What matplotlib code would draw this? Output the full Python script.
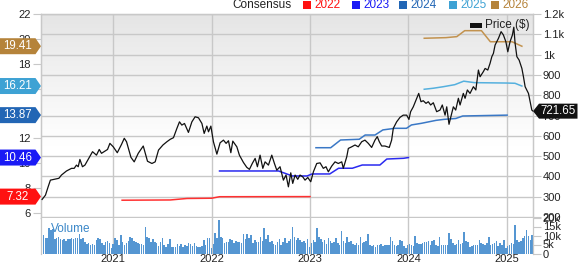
import numpy as np
import pandas as pd
import matplotlib
matplotlib.use("Agg")
import matplotlib.pyplot as plt
import matplotlib.dates as mdates
from matplotlib.patches import Polygon, Rectangle
from matplotlib.transforms import IdentityTransform
from matplotlib.ticker import FixedLocator, FuncFormatter

plt.rcParams['font.family'] = ['Liberation Sans', 'DejaVu Sans']

# ---------------- data ----------------
price_t = [2020.279, 2020.313, 2020.340, 2020.363, 2020.408, 2020.449, 2020.475, 2020.526, 2020.577, 2020.604,
           2020.627, 2020.645, 2020.662, 2020.688, 2020.713, 2020.746, 2020.790, 2020.830, 2020.858, 2020.881,
           2020.916, 2020.942, 2020.966,
           2021.000, 2021.041, 2021.084, 2021.112, 2021.135, 2021.180, 2021.213, 2021.254, 2021.305, 2021.348,
           2021.393, 2021.426, 2021.460, 2021.505, 2021.545, 2021.579, 2021.612, 2021.647, 2021.673, 2021.697,
           2021.724, 2021.764, 2021.799, 2021.832, 2021.866, 2021.901, 2021.924, 2021.951, 2021.968, 2021.992,
           2022.018, 2022.053, 2022.086, 2022.120, 2022.147, 2022.171, 2022.195, 2022.215, 2022.256, 2022.282,
           2022.323, 2022.357, 2022.384, 2022.414, 2022.442, 2022.465, 2022.492, 2022.520, 2022.543, 2022.577,
           2022.611, 2022.638, 2022.662, 2022.695, 2022.729, 2022.756, 2022.780, 2022.804, 2022.824, 2022.848,
           2022.875, 2022.898, 2022.926, 2022.949, 2022.977,
           2023.007, 2023.034, 2023.068, 2023.102, 2023.135, 2023.162, 2023.186, 2023.220, 2023.254, 2023.287,
           2023.322, 2023.338, 2023.373, 2023.389, 2023.423, 2023.457, 2023.490, 2023.525, 2023.558, 2023.592,
           2023.626, 2023.660, 2023.683, 2023.704, 2023.728, 2023.761, 2023.805, 2023.829, 2023.846, 2023.880,
           2023.914, 2023.947, 2023.982,
           2024.005, 2024.022, 2024.049, 2024.076, 2024.104, 2024.127, 2024.150, 2024.178, 2024.201, 2024.225,
           2024.252, 2024.286, 2024.320, 2024.343, 2024.371, 2024.388, 2024.411, 2024.439, 2024.455, 2024.479,
           2024.506, 2024.523, 2024.556, 2024.574, 2024.597, 2024.624, 2024.658, 2024.683, 2024.709, 2024.726,
           2024.759, 2024.777, 2024.804, 2024.827, 2024.845, 2024.861, 2024.878, 2024.912, 2024.939, 2024.962,
           2024.987,
           2025.007, 2025.030, 2025.054, 2025.068, 2025.081, 2025.099, 2025.122, 2025.150, 2025.166, 2025.183,
           2025.217, 2025.251, 2025.264]
price_v = [287, 308, 349, 382, 387, 391, 407, 427, 440, 440,
           456, 448, 484, 448, 456, 484, 522, 505, 533, 514,
           525, 533, 563,
           546, 517, 558, 588, 571, 494, 472, 514, 550, 475,
           464, 472, 530, 555, 571, 583, 591, 637, 669, 653,
           661, 617, 669, 694, 689, 661, 612, 648, 620, 648,
           571, 510, 566, 579, 563, 576, 517, 574, 546, 505,
           469, 445, 435, 465, 489, 448, 505, 440, 472, 456,
           505, 464, 431, 448, 382, 407, 349, 418, 366, 407,
           386, 407, 398, 382, 395,
           374, 423, 464, 467, 440, 448, 423, 451, 472, 464,
           472, 440, 497, 538, 546, 555, 546, 571, 579, 563,
           543, 579, 596, 571, 550, 550, 543, 579, 637, 669,
           691, 702, 702,
           681, 719, 743, 776, 809, 768, 773, 760, 768, 752,
           763, 719, 727, 752, 702, 743, 657, 711, 743, 727,
           785, 752, 809, 785, 826, 809, 842, 826, 924, 891,
           916, 932, 924, 957, 990, 1006, 1047, 1080, 1113, 1097,
           1064,
           1014, 1064, 1097, 1135, 1056, 990, 973, 932, 891, 842,
           809, 727, 721.65]

eps_years = ['2022', '2023', '2024', '2025', '2026']
eps_colors = ['#ff1111', '#1a1af5', '#2266b5', '#3ea2d4', '#b5833a']
eps_line_colors = ['#ff3030', '#2a2af0', '#3a78c6', '#55b0de', '#c2924e']

eps_2022_t = [2021.09, 2021.58, 2021.75, 2022.00, 2022.08, 2023.00]
eps_2022_v = [7.03, 7.05, 7.17, 7.19, 7.31, 7.32]
eps_2023_t = [2022.08, 2022.68, 2022.82, 2022.97, 2023.02, 2023.20, 2023.29, 2023.43, 2023.53, 2023.71, 2023.78, 2023.95, 2024.00]
eps_2023_v = [9.38, 9.38, 8.98, 8.98, 9.14, 9.14, 9.60, 9.60, 9.86, 9.86, 10.34, 10.40, 10.46]
eps_2024_t = [2023.06, 2023.21, 2023.31, 2023.50, 2023.56, 2023.66, 2023.74, 2023.86, 2023.98, 2024.03, 2024.13, 2024.28, 2024.36, 2024.48, 2024.55, 2025.00]
eps_2024_v = [11.25, 11.25, 11.87, 11.93, 12.27, 12.27, 12.68, 12.81, 12.81, 13.08, 13.21, 13.45, 13.53, 13.60, 13.80, 13.87]
eps_2025_t = [2024.16, 2024.25, 2024.35, 2024.47, 2024.56, 2024.67, 2025.00, 2025.08, 2025.15]
eps_2025_v = [15.95, 16.03, 16.15, 16.32, 16.60, 16.48, 16.45, 16.43, 16.21]
eps_2026_t = [2024.16, 2024.38, 2024.49, 2024.57, 2024.74, 2024.83, 2025.05, 2025.15]
eps_2026_v = [20.05, 20.10, 20.18, 20.66, 20.66, 19.77, 19.77, 19.41]

volume_k = [10.3, 10.3, 8.8, 8.4, 14, 13, 13.6, 8, 8.8, 9,
            8, 7.5, 7.8, 7, 8, 7.8, 8.4, 8, 8.4, 8.8,
            10.6, 8, 8.4, 6.6, 5.1, 5.6, 4.7, 5.1, 4.7, 7.5,
            8.4, 8, 5.6, 4.7, 6.2, 7, 5.6, 3.2, 5.1, 8.4,
            7.5, 4.7, 10.3, 6.6, 4.7, 5.6, 7, 9.4, 8.8, 7,
            6.6, 5.6, 5.4, 5.1, 4.7, 15, 9.4, 8.4, 6.6, 8,
            6.2, 5.6, 4.3, 6.6, 8.4, 4.7, 3.8, 5.1, 8, 3.8,
            3.4, 3.8, 5.1, 4.3, 5.1, 3.8, 4.7, 4.3, 5.6, 5.1,
            4.3, 5.6, 4.3, 3.8, 3.8, 4.3, 7.5, 4.7, 8.4, 8.8,
            2.8, 5.1, 11.2, 8.8, 18.4, 9.4, 8.4, 5.6, 6.2, 6.6,
            8, 7.5, 5.6, 7, 6.2, 6.6, 5.6, 10.6, 8, 10.6,
            8.4, 10.3, 5.6, 7.5, 6.2, 6.6, 9.4, 7, 14.4, 8,
            10.3, 6.6, 7, 5.1, 4.7, 6.2, 8, 4.7, 6.6, 8.8,
            5.6, 7, 8, 14.5, 9, 7.5, 8.5, 7.5, 6.5, 7,
            6, 8, 3.5, 6, 7.5, 6.5, 14, 9, 8, 6.5,
            7.5, 5.5, 8.5, 7, 6, 6.5, 8.5, 6, 5, 12.5,
            7, 6, 9, 6.5, 7, 5.5, 5, 6, 5, 9,
            6, 6.5, 7, 11, 5, 4, 5, 3.5, 5, 4.5,
            5.5, 4, 4.5, 5, 4.5, 9, 7, 5, 4, 4.5,
            7.5, 7, 4, 3, 4.5, 5.5, 5, 4, 10, 6,
            5.5, 5.5, 6, 6.5, 6.5, 7, 5, 7, 7.5, 5,
            4, 9, 4.5, 5, 4.5, 5, 11.3, 8, 6, 5,
            5.5, 7.5, 5.5, 6, 12, 7, 6.5, 3.5, 4, 5,
            4.5, 5, 7.5, 6, 5.5, 5, 6, 9, 5, 5.5,
            6, 7, 4, 6, 5, 7.5, 3, 4, 5, 6,
            5.5, 16, 7.5, 6.5, 7, 8.5, 9.5, 13, 10, 7.5, 10.5]
volume_start = '2020-04-10'

year_ticks = ['2021', '2022', '2023', '2024', '2025']
price_ticks = [200, 300, 400, 500, 600, 700, 800, 900, 1000, 1100, 1200]
eps_ticks = [6, 8, 10, 12, 14, 16, 18, 20, 22]
vol_ticks = [0, 5, 10, 15, 20]


def to_date(t):
    y = int(t)
    a = pd.Timestamp(y, 1, 1)
    b = pd.Timestamp(y + 1, 1, 1)
    return a + (b - a) * (t - y)


# ---------------- layout ----------------
W, H = 579, 264
fig = plt.figure(figsize=(W / 100, H / 100), dpi=100)
L, R, T, BM, BV = 41, 533, 14, 217.5, 253.5
axP = fig.add_axes([L / W, 1 - BM / H, (R - L) / W, (BM - T) / H])
axL = axP.twinx()
axV = fig.add_axes([L / W, 1 - BV / H, (R - L) / W, (BV - BM) / H], sharex=axP)

grid_c = '#c8c8c8'
txt_c = '#222222'

# gradient background
g = np.linspace(0, 1, 200)
shade = 0.895 + 0.105 * np.clip(g / 0.65, 0, 1) ** 0.9
img = np.dstack([shade, shade, shade]).reshape(200, 1, 3)
axP.imshow(img, extent=[0, 1, 0, 1], transform=axP.transAxes, aspect='auto',
           origin='upper', zorder=0, interpolation='bilinear')

xmin, xmax = pd.Timestamp('2020-04-08'), pd.Timestamp('2025-04-07')
axP.set_xlim(xmin, xmax)

price_lo, price_hi = 198, 1200
axP.set_ylim(price_lo, price_hi)
# left EPS axis aligned with price axis
eps_lo, eps_hi = 5.64, 22.0
axL.set_ylim(eps_lo, eps_hi)

# grid
axP.yaxis.set_major_locator(FixedLocator(price_ticks))
def kfmt(v, pos):
    if v >= 1000:
        s = f"{v/1000:.1f}".rstrip('0').rstrip('.')
        return s + 'k'
    return f"{int(v)}"
axP.yaxis.set_major_formatter(FuncFormatter(kfmt))
year_dates = [pd.Timestamp(int(y), 1, 1) for y in year_ticks]
axP.set_xticks(year_dates)
axP.grid(True, color=grid_c, lw=1.0, zorder=1)
axP.set_axisbelow(True)
axP.tick_params(axis='x', labelbottom=False, length=0)
axP.yaxis.tick_right()
axP.tick_params(axis='y', direction='out', length=5.5, width=0.8, color=grid_c,
                labelsize=8, labelcolor=txt_c, pad=1.5)

axL.yaxis.tick_left()
axL.yaxis.set_major_locator(FixedLocator(eps_ticks))
axL.yaxis.set_major_formatter(FuncFormatter(lambda v, p: f"{int(v)}"))
axL.tick_params(axis='y', direction='out', length=6, width=0.8, color=grid_c,
                labelsize=8, labelcolor=txt_c, pad=1.5)

for ax in (axP, axL):
    for s in ax.spines.values():
        s.set_color(grid_c)
        s.set_linewidth(0.9)

# EPS lines
eps_series = [(eps_2022_t, eps_2022_v), (eps_2023_t, eps_2023_v), (eps_2024_t, eps_2024_v),
              (eps_2025_t, eps_2025_v), (eps_2026_t, eps_2026_v)]
for (tt, vv), c in zip(eps_series, eps_line_colors):
    axL.plot([to_date(t) for t in tt], vv, color=c, lw=1.1, zorder=3, solid_joinstyle='round')

# price line (price scale), drawn on top
axL.plot([to_date(t) for t in price_t], price_v, color='#111111', lw=0.9,
         transform=axP.transData, zorder=4)

# volume
vol_dates = pd.date_range(volume_start, periods=len(volume_k), freq='7D')
axV.bar(vol_dates, volume_k, width=5.6, color='#5596d2', edgecolor='none', zorder=2)
axV.set_ylim(0, 20)
axV.set_xlim(xmin, xmax)
axV.set_xticks(year_dates)
axV.xaxis.set_major_formatter(mdates.DateFormatter('%Y'))
axV.grid(True, axis='x', color=grid_c, lw=1.0, zorder=0)
axV.set_axisbelow(True)
axV.tick_params(axis='x', length=0, labelsize=8, labelcolor=txt_c, pad=0.3)
axV.yaxis.tick_right()
axV.yaxis.set_major_locator(FixedLocator(vol_ticks))
axV.yaxis.set_major_formatter(FuncFormatter(lambda v, p: '0' if v == 0 else f"{int(v)}k"))
axV.tick_params(axis='y', direction='out', length=5.5, width=0.8, color=grid_c,
                labelsize=8, labelcolor=txt_c, pad=1.5)
for k, s in axV.spines.items():
    s.set_color(grid_c)
    s.set_linewidth(0.9)
axV.spines['top'].set_visible(False)
axV.spines['bottom'].set_visible(False)
axV.text(0.02, 0.68, 'Volume', transform=axV.transAxes, ha='left', va='center',
         color='#3a87c8', fontsize=8.5, zorder=5)

# ---------------- left value tags ----------------
fig.canvas.draw()
last_vals = [eps_2022_v[-1], eps_2023_v[-1], eps_2024_v[-1], eps_2025_v[-1], eps_2026_v[-1]]
for v, c in zip(last_vals, eps_colors):
    ypix = axL.transData.transform((0, v))[1]
    xr = axL.transAxes.transform((0, 0))[0]
    h = 8
    poly = Polygon([(0, ypix - h), (xr - 5.5, ypix - h), (xr, ypix), (xr - 5.5, ypix + h), (0, ypix + h)],
                   closed=True, transform=IdentityTransform(), facecolor=c, edgecolor='none', zorder=10)
    fig.patches.append(poly)
    fig.text((xr - 5.5) / 2 / W, ypix / H, f"{v:.2f}", ha='center', va='center', color='white',
             fontsize=8.3, zorder=11)

# price tag on right
pv = price_v[-1]
ypix = axP.transData.transform((0, pv))[1]
xl = axP.transAxes.transform((1, 0))[0]
h = 7.5
poly = Polygon([(xl, ypix), (xl + 6, ypix - h), (W - 1.5, ypix - h), (W - 1.5, ypix + h), (xl + 6, ypix + h)],
               closed=True, transform=IdentityTransform(), facecolor='#111111', edgecolor='none', zorder=10)
fig.patches.append(poly)
fig.text((xl + 6 + W - 1.5) / 2 / W, ypix / H, f"{pv:.2f}", ha='center', va='center', color='white',
         fontsize=8.3, zorder=11)

# ---------------- top legend ----------------
ytop = 1 - 5 / H
fig.text(232 / W, ytop, 'Consensus', ha='left', va='center', fontsize=8.5, color=txt_c)
leg_x = [303, 352, 399, 449, 491]
for x0, yr, c in zip(leg_x, eps_years, eps_colors):
    fig.patches.append(Rectangle((x0, H - 8.5), 7.5, 7.5, transform=IdentityTransform(),
                                 facecolor=c, edgecolor='none', zorder=10))
    fig.text((x0 + 11.5) / W, ytop, yr, ha='left', va='center', fontsize=8.5, color=c)

# price legend inside plot
fig.patches.append(Rectangle((470, H - 27.5), 12, 5, transform=IdentityTransform(),
                             facecolor='#111111', edgecolor='none', zorder=10))
fig.text(485 / W, 1 - 25 / H, 'Price ($)', ha='left', va='center', fontsize=8.5, color=txt_c)

fig.savefig('out.png', dpi=100)
